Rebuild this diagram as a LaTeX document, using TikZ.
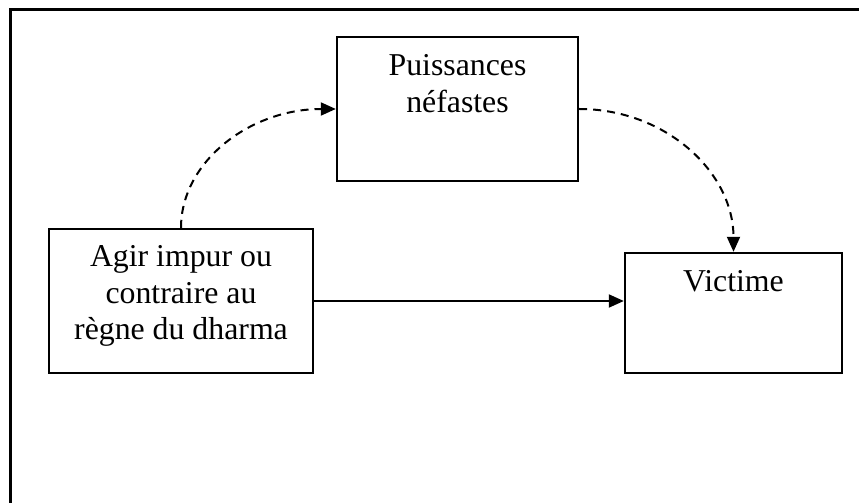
\documentclass[tikz,border=0pt]{standalone}
\usepackage{fontspec}
\setmainfont{Liberation Serif}
\usetikzlibrary{arrows.meta}
\begin{document}
\begin{tikzpicture}[x=1pt,y=1pt,
  boxnode/.style={draw=black,line width=2.4pt,inner sep=0pt,minimum width=#1},
  lbl/.style={anchor=base,inner sep=0pt,align=center,font=\fontsize{31.8}{36.5}\selectfont},
  tip/.style={-{Triangle[length=15pt,width=13pt]}},
  conn/.style={line width=2pt,tip},
  dashconn/.style={conn,dash pattern=on 8pt off 6pt}]
\useasboundingbox (0,0) rectangle (859,503);
\draw[line width=3pt,line cap=rect] (10,0) -- (10,493) -- (870,493);
\node[boxnode=264pt,minimum height=144pt] (agir) at (181,202) {};
\node[boxnode=241pt,minimum height=144pt] (puis) at (457.5,394) {};
\node[boxnode=217pt,minimum height=120pt] (vict) at (733.5,190) {};
\node[lbl] (tagir) at ([yshift=-112pt]agir.north) {Agir impur ou\\contraire au\\règne du dharma};
\node[lbl] (tpuis) at ([yshift=-76.5pt]puis.north) {Puissances\\néfastes};
\node[lbl] (tvict) at ([yshift=-40pt]vict.north) {Victime};
\draw[conn] (agir.east) -- (agir.east -| vict.west);
\draw[dashconn] (agir.north) .. controls ([yshift=66pt]agir.north) and ([xshift=-86pt]puis.west) .. (puis.west);
\draw[dashconn] (puis.east) .. controls ([xshift=86pt]puis.east) and ([yshift=80pt]vict.north) .. (vict.north);
\end{tikzpicture}
\end{document}
